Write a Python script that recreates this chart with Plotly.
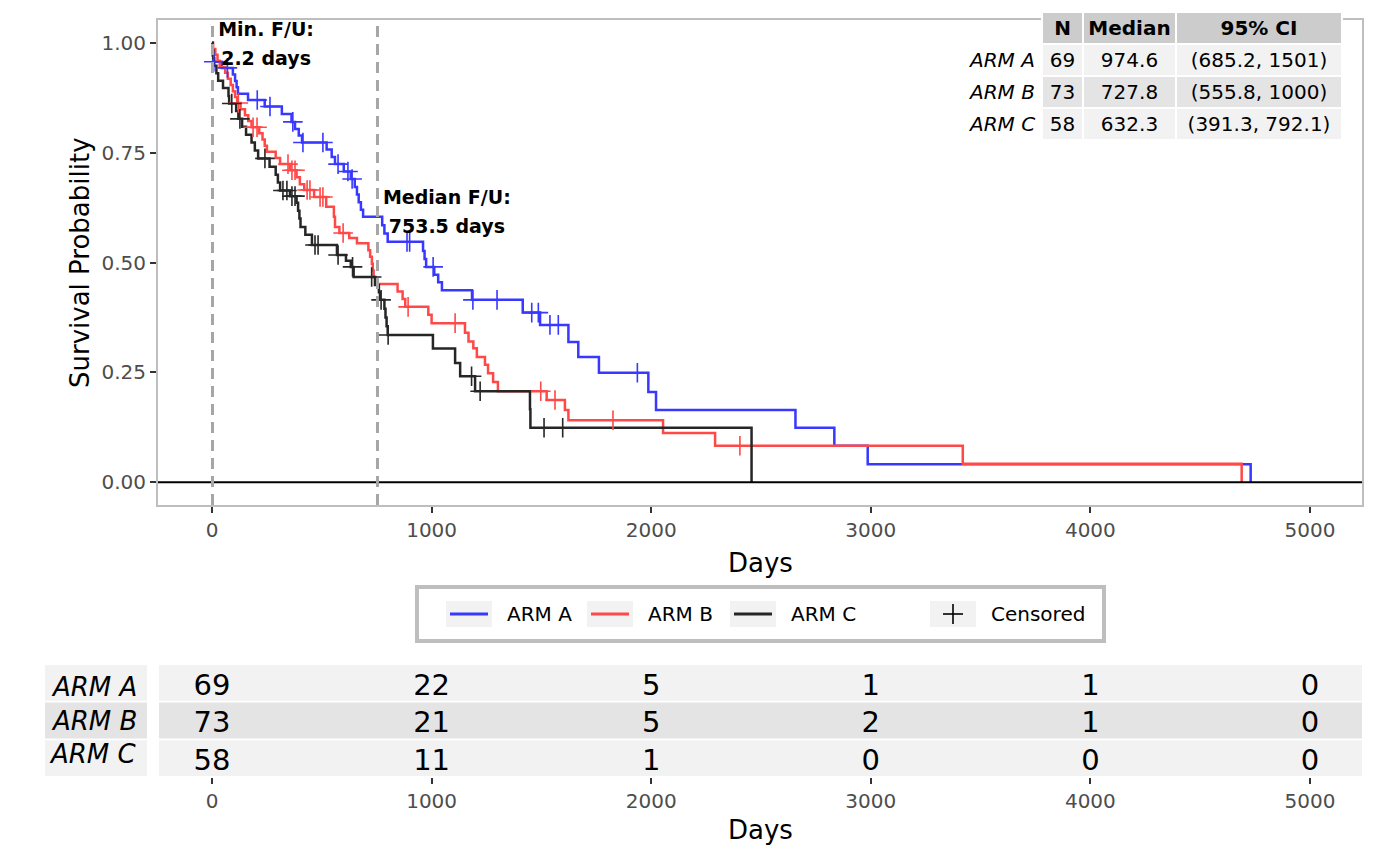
import plotly.graph_objects as go

W, H = 1400, 866
OFF = 8  # the page body adds an 8px margin around the figure

arms = ["ARM A", "ARM B", "ARM C"]
arm_colors = ["#3838FF", "#FF4848", "#262626"]
days_ticks = [0, 1000, 2000, 3000, 4000, 5000]
surv_ticks = [0, 0.25, 0.5, 0.75, 1.0]

# Kaplan-Meier steps: event time and survival after it
a_time = [2, 3, 5, 45, 95, 105, 112, 118, 164, 240, 318, 362, 378, 395, 410,
          522, 545, 560, 600, 632, 650, 660, 668, 678, 688, 775, 785, 800,
          961, 968, 975, 1012, 1030, 1047, 1184, 1415, 1494, 1623, 1668, 1762,
          1987, 2022, 2657, 2834, 2986, 4730]
a_surv = [0.986, 0.971, 0.957, 0.943, 0.928, 0.913, 0.899, 0.884, 0.870, 0.855,
          0.838, 0.820, 0.804, 0.789, 0.773, 0.757, 0.740, 0.724, 0.707, 0.690,
          0.672, 0.655, 0.637, 0.620, 0.604, 0.585, 0.566, 0.547, 0.526, 0.508,
          0.490, 0.472, 0.455, 0.437, 0.415, 0.386, 0.358, 0.319, 0.285, 0.249,
          0.205, 0.164, 0.124, 0.083, 0.041, 0.0]
a_cens = [8, 70, 206, 264, 368, 414, 505, 574, 619, 638, 888, 900, 1007, 1188,
          1298, 1456, 1486, 1539, 1577, 1937]

b_time = [5, 15, 25, 35, 60, 72, 85, 95, 105, 115, 130, 150, 165, 180, 215, 230,
          240, 250, 290, 310, 355, 385, 400, 420, 465, 520, 555, 560, 580, 625,
          660, 712, 720, 728, 732, 736, 745, 845, 868, 880, 985, 1000, 1152, 1168,
          1190, 1206, 1243, 1257, 1280, 1302, 1524, 1607, 1623, 2054, 2291, 3419,
          4689]
b_surv = [0.986, 0.973, 0.959, 0.945, 0.932, 0.918, 0.904, 0.890, 0.877, 0.863,
          0.849, 0.835, 0.822, 0.808, 0.794, 0.780, 0.766, 0.752, 0.738, 0.724,
          0.710, 0.694, 0.678, 0.665, 0.649, 0.627, 0.604, 0.581, 0.567, 0.556,
          0.544, 0.528, 0.513, 0.497, 0.482, 0.467, 0.451, 0.434, 0.417, 0.399,
          0.381, 0.362, 0.340, 0.320, 0.305, 0.285, 0.267, 0.248, 0.228, 0.207,
          0.187, 0.164, 0.141, 0.112, 0.083, 0.042, 0.0]
b_cens = [120, 187, 205, 346, 364, 378, 433, 446, 492, 505, 597, 893, 1107, 1497,
          1562, 1826, 2404]

c_time = [3, 6, 10, 20, 28, 50, 75, 78, 110, 120, 137, 155, 180, 195, 210, 262,
          290, 300, 310, 355, 385, 392, 398, 403, 425, 455, 569, 610, 632, 645,
          742, 760, 765, 785, 790, 795, 800, 1006, 1107, 1130, 1198, 1448, 1450,
          2457]
c_surv = [0.983, 0.966, 0.948, 0.931, 0.914, 0.897, 0.879, 0.862, 0.845, 0.827,
          0.809, 0.791, 0.773, 0.755, 0.737, 0.718, 0.700, 0.682, 0.664, 0.651,
          0.636, 0.618, 0.600, 0.581, 0.563, 0.540, 0.517, 0.504, 0.490, 0.467,
          0.449, 0.432, 0.415, 0.395, 0.375, 0.355, 0.335, 0.304, 0.271, 0.241,
          0.207, 0.166, 0.124, 0.0]
c_cens = [90, 127, 241, 323, 341, 364, 378, 469, 483, 574, 640, 727, 770, 802,
          1182, 1221, 1512, 1597]

# numbers at risk
risk_a = [69, 22, 5, 1, 1, 0]
risk_b = [73, 21, 5, 2, 1, 0]
risk_c = [58, 11, 1, 0, 0, 0]

# summary table
summary_header = ["N", "Median", "95% CI"]
summary_n = [69, 73, 58]
summary_median = ["974.6", "727.8", "632.3"]
summary_ci = ["(685.2, 1501)", "(555.8, 1000)", "(391.3, 792.1)"]

min_fu = 2.2
median_fu = 753.5

FONT = "DejaVu Sans"


def px(x):
    return (x - OFF) / W


def py(y):
    return 1 - (y - OFF) / H


def surv_at(times, surv, t):
    s = 1.0
    for ti, si in zip(times, surv):
        if ti <= t:
            s = si
    return s


def label(x, y, text, size=20, xanchor="center", **kw):
    d = dict(x=px(x), y=py(y), xref="paper", yref="paper", text=text, showarrow=False,
             xanchor=xanchor, yanchor="middle", font=dict(family=FONT, size=size, color="black"))
    d.update(kw)
    return d


def cell(x0, x1, y0, y1, text, fill):
    return dict(x=px((x0 + x1) / 2), y=py((y0 + y1) / 2), xref="paper", yref="paper",
                text=text, showarrow=False, xanchor="center", yanchor="middle",
                width=x1 - x0, height=y1 - y0, bgcolor=fill, borderpad=0, borderwidth=0,
                align="center", valign="middle",
                font=dict(family=FONT, size=20, color="black"))


fig = go.Figure()

curves = [(a_time, a_surv, a_cens), (b_time, b_surv, b_cens), (c_time, c_surv, c_cens)]
for (times, surv, cens), name, col in zip(curves, arms, arm_colors):
    fig.add_trace(go.Scatter(
        x=[0] + times, y=[1.0] + surv, mode="lines", line_shape="hv",
        line=dict(color=col, width=2.5), name=name, showlegend=False,
        xaxis="x", yaxis="y"
    ))
for (times, surv, cens), name, col in zip(curves, arms, arm_colors):
    fig.add_trace(go.Scatter(
        x=cens, y=[surv_at(times, surv, t) for t in cens], mode="markers",
        marker=dict(symbol="cross-thin", size=14, line=dict(color=col, width=1.6)),
        showlegend=False, xaxis="x", yaxis="y"
    ))

# follow-up labels (clipped by the panel like the original)
fu_lines = [
    (min_fu + 244, 1.027, "Min. F/U:"),
    (min_fu + 244, 0.960, "2.2 days"),
    (median_fu + 316, 0.644, "Median F/U:"),
    (median_fu + 316, 0.578, "753.5 days"),
]
fig.add_trace(go.Scatter(
    x=[f[0] for f in fu_lines], y=[f[1] for f in fu_lines],
    text=["<b>%s</b>" % f[2] for f in fu_lines], mode="text",
    textposition="middle center", cliponaxis=True,
    textfont=dict(family=FONT, size=19, color="black"),
    showlegend=False, xaxis="x", yaxis="y"
))

# risk table numbers (nudged a little below each row centre, as in the original)
risk_rows = [risk_a, risk_b, risk_c]
rx, ry, rt = [], [], []
for i, row in enumerate(risk_rows):
    for t, n in zip(days_ticks, row):
        rx.append(t)
        ry.append(i + 0.12)
        rt.append(str(n))
fig.add_trace(go.Scatter(
    x=rx, y=ry, text=rt, mode="text", textposition="middle center",
    textfont=dict(family=FONT, size=29, color="black"),
    showlegend=False, xaxis="x2", yaxis="y2", cliponaxis=False
))

head_fill = "#CCCCCC"
row_fill = ["#F2F2F2", "#E4E4E4", "#F2F2F2"]

shapes = []
# zero line and follow-up markers
shapes.append(dict(type="line", xref="x domain", yref="y", x0=0, x1=1, y0=0, y1=0,
                   line=dict(color="black", width=2), layer="above"))
for v in [min_fu, median_fu]:
    shapes.append(dict(type="line", xref="x", yref="y domain", x0=v, x1=v, y0=0, y1=1,
                       line=dict(color="#A6A6A6", width=3, dash="11px,7px"), layer="above"))

# risk table row bands + label boxes
for i, col in enumerate(row_fill):
    shapes.append(dict(type="rect", xref="x2 domain", yref="y2", x0=0.0008, x1=1,
                       y0=i - 0.475, y1=i + 0.475, fillcolor=col, line_width=0, layer="below"))
    shapes.append(dict(type="rect", xref="paper", yref="y2", x0=px(45), x1=px(147),
                       y0=i - 0.475, y1=i + 0.475, fillcolor=col, line_width=0, layer="below"))

# legend box
shapes.append(dict(type="rect", xref="paper", yref="paper", x0=px(417), x1=px(1104),
                   y0=py(641), y1=py(587), line=dict(color="#BEBEBE", width=4),
                   fillcolor="white", layer="below"))
key_x = [446, 587, 730]
for kx, col in zip(key_x, arm_colors):
    shapes.append(dict(type="rect", xref="paper", yref="paper", x0=px(kx), x1=px(kx + 46),
                       y0=py(627), y1=py(601), fillcolor="#F2F2F2", line_width=0))
    shapes.append(dict(type="line", xref="paper", yref="paper", x0=px(kx + 4), x1=px(kx + 42),
                       y0=py(614), y1=py(614), line=dict(color=col, width=3)))
cx = 930
shapes.append(dict(type="rect", xref="paper", yref="paper", x0=px(cx), x1=px(cx + 46),
                   y0=py(627), y1=py(601), fillcolor="#F2F2F2", line_width=0))
shapes.append(dict(type="line", xref="paper", yref="paper", x0=px(cx + 13), x1=px(cx + 33),
                   y0=py(614), y1=py(614), line=dict(color="black", width=1.6)))
shapes.append(dict(type="line", xref="paper", yref="paper", x0=px(cx + 23), x1=px(cx + 23),
                   y0=py(604), y1=py(624), line=dict(color="black", width=1.6)))

annotations = []
for kx, name in zip(key_x, arms):
    annotations.append(label(kx + 59, 614, name, xanchor="left"))
annotations.append(label(cx + 59, 614, "Censored", xanchor="left"))

# axis titles
annotations.append(label(760, 563, "Days", size=26))
annotations.append(label(760, 830, "Days", size=26))
annotations.append(label(80, 263, "Survival Probability", size=26, textangle=-90))

# risk table row labels
for name, ly in zip(arms, [687, 721, 754]):
    annotations.append(label(139, ly, "<i>%s</i>" % name, size=26, xanchor="right"))

# summary table top right (covers the panel border like the original)
tab_cols = [(1043, 1082), (1084, 1175), (1177, 1341)]
tab_rows = [(45, 75), (77, 107), (109, 139)]
annotations.append(cell(1041, 1343, 12, 44, "", "white"))
body = [[str(n) for n in summary_n], summary_median, summary_ci]
for j, (x0, x1) in enumerate(tab_cols):
    annotations.append(cell(x0, x1, 13, 43, "<b>%s</b>" % summary_header[j], head_fill))
    for i, (y0, y1) in enumerate(tab_rows):
        annotations.append(cell(x0, x1, y0, y1, body[j][i], row_fill[i]))
for i, (y0, y1) in enumerate(tab_rows):
    annotations.append(label(1037, (y0 + y1) / 2, "<i>%s</i>" % arms[i], xanchor="right"))

axis_common = dict(
    range=[-246, 5237], tickvals=days_ticks, ticks="outside", ticklen=6, tickwidth=2,
    tickcolor="#333333", tickfont=dict(family=FONT, size=20, color="#4D4D4D"),
    showgrid=False, zeroline=False, domain=[px(158), px(1362)]
)

fig.update_layout(
    width=W, height=H,
    margin=dict(l=0, r=0, t=0, b=0),
    paper_bgcolor="white", plot_bgcolor="white",
    font=dict(family=FONT),
    showlegend=False,
    xaxis=dict(anchor="y", showline=True, mirror=True, linecolor="#BEBEBE", linewidth=2,
               **axis_common),
    yaxis=dict(anchor="x", domain=[py(505), py(20)], range=[-0.052, 1.052],
               tickvals=surv_ticks, tickformat=".2f", ticks="outside", ticklen=6,
               tickwidth=2, tickcolor="#333333",
               tickfont=dict(family=FONT, size=20, color="#4D4D4D"),
               showline=True, mirror=True, linecolor="#BEBEBE", linewidth=2,
               showgrid=False, zeroline=False),
    xaxis2=dict(anchor="y2", showline=False, **axis_common),
    yaxis2=dict(anchor="x2", domain=[py(777), py(664)], range=[2.5, -0.5],
                visible=False),
    shapes=shapes,
    annotations=annotations,
)

fig.write_html("out.html")
